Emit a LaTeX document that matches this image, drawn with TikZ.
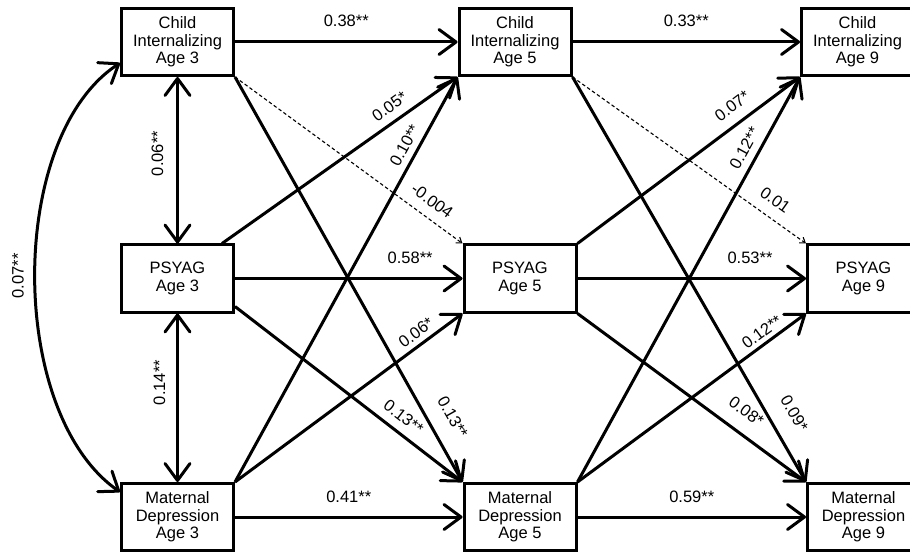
\documentclass[tikz,border=0pt]{standalone}
\usepackage{fontspec}
\setmainfont{Liberation Sans}
\usetikzlibrary{arrows.meta,calc}

\begin{document}
\begin{tikzpicture}[x=1pt,y=-1pt,
  var/.style={draw, line width=3pt, fill=white, minimum width=112pt, minimum height=67pt,
    inner sep=0pt, align=center, font=\fontsize{16.5}{17.5}\selectfont},
  link/.style={line width=3pt, -{Straight Barb[length=17pt,width=25pt,round]}},
  both/.style={line width=3pt, {Straight Barb[length=17pt,width=25pt,round]}-{Straight Barb[length=17pt,width=25pt,round]}},
  weak/.style={line width=1.1pt, dash pattern=on 3.5pt off 2.5pt, -{Straight Barb[length=5pt,width=7pt]}},
  lab/.style={font=\fontsize{16.5}{18}\selectfont, inner sep=2pt},
]
\useasboundingbox (0,0) rectangle (910,553);
\clip (0,0) rectangle (910,553);

% variables at ages 3, 5 and 9
\node[var] (CI3) at (177.5,42)  {Child\\Internalizing\\Age 3};
\node[var] (PS3) at (177.5,278.5) {PSYAG\\Age 3};
\node[var] (MD3) at (177.5,517) {Maternal\\Depression\\Age 3};
\node[var] (CI5) at (515,42)    {Child\\Internalizing\\Age 5};
\node[var] (PS5) at (520,278.5) {PSYAG\\Age 5};
\node[var] (MD5) at (520,517)   {Maternal\\Depression\\Age 5};
\node[var] (CI9) at (857.5,42)  {Child\\Internalizing\\Age 9};
\node[var] (PS9) at (863.5,278.5) {PSYAG\\Age 9};
\node[var] (MD9) at (863.5,517) {Maternal\\Depression\\Age 9};

% within-time covariances at age 3
\draw[both] (CI3.south) -- (PS3.north);
\node[lab, rotate=90] (c1) at ($(CI3.south)!0.46!(PS3.north)+(-20,0)$) {0.06**};
\draw[both] (PS3.south) -- (MD3.north);
\node[lab, rotate=90] (c2) at ($(PS3.south)!0.41!(MD3.north)+(-18,0)$) {0.14**};
\draw[both] ([yshift=-21pt]CI3.west) .. controls (7,137) and (7,413) .. ([yshift=25pt]MD3.west);
\node[lab, rotate=90] (c3) at (18,276) {0.07**};

% stability paths
\draw[link] (CI3.east) -- (CI5.west) node[lab, midway, above=12pt] {0.38**};
\draw[link] (CI5.east) -- (CI9.west) node[lab, midway, above=12pt] {0.33**};
\draw[link] (PS3.east) -- (PS5.west) node[lab, pos=0.77, above=11pt] {0.58**};
\draw[link] (PS5.east) -- (PS9.west) node[lab, pos=0.755, above=11pt] {0.53**};
\draw[link] (MD3.east) -- (MD5.west) node[lab, midway, above=11pt] {0.41**};
\draw[link] (MD5.east) -- (MD9.west) node[lab, midway, above=11pt] {0.59**};

% cross-lagged paths, age 3 to age 5
\draw[weak] (CI3.south east) -- (PS5.north west)
  node[lab, sloped, pos=0.824, above=8pt] {-0.004};
\draw[link] (CI3.south east) -- (MD5.north west)
  node[lab, sloped, pos=0.868, above=14pt] {0.13**};
\draw[link] ([xshift=-13pt]PS3.north east) -- (CI5.south west)
  node[lab, sloped, pos=0.749, above=6pt] {0.05*};
\draw[link] ([yshift=7pt]PS3.south east) -- (MD5.north west)
  node[lab, sloped, pos=0.70, above=6pt] {0.13**};
\draw[link] (MD3.north east) -- (CI5.south west)
  node[lab, sloped, pos=0.815, above=4pt] {0.10**};
\draw[link] (MD3.north east) -- (PS5.south west)
  node[lab, sloped, pos=0.828, above=3pt] {0.06*};

% cross-lagged paths, age 5 to age 9
\draw[weak] (CI5.south east) -- (PS9.north west)
  node[lab, sloped, pos=0.825, above=9pt] {0.01};
\draw[link] (CI5.south east) -- (MD9.north west)
  node[lab, sloped, pos=0.86, above=15pt] {0.09*};
\draw[link] (PS5.north east) -- (CI9.south west)
  node[lab, sloped, pos=0.742, above=8pt] {0.07*};
\draw[link] (PS5.south east) -- (MD9.north west)
  node[lab, sloped, pos=0.684, above=12pt] {0.08*};
\draw[link] (MD5.north east) -- (CI9.south west)
  node[lab, sloped, pos=0.807, above=5pt] {0.12**};
\draw[link] (MD5.north east) -- (PS9.south west)
  node[lab, sloped, pos=0.836, above=2pt] {0.12**};
\end{tikzpicture}
\end{document}
